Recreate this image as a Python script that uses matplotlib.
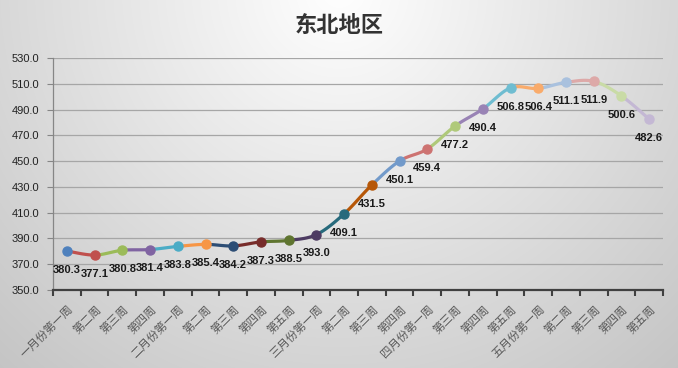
import numpy as np
import matplotlib.pyplot as plt
from matplotlib.ticker import FixedLocator, FormatStrFormatter

plt.rcParams['font.family'] = ['Noto Sans CJK SC', 'DejaVu Sans']

# data
weeks = ['一月份第一周', '第二周', '第三周', '第四周',
         '二月份第一周', '第二周', '第三周', '第四周', '第五周',
         '三月份第一周', '第二周', '第三周', '第四周',
         '四月份第一周', '第三周', '第四周', '第五周',
         '五月份第一周', '第二周', '第三周', '第四周', '第五周']
prices = [380.3, 377.1, 380.8, 381.4, 383.8, 385.4, 384.2, 387.3, 388.5, 393.0,
          409.1, 431.5, 450.1, 459.4, 477.2, 490.4, 506.8, 506.4, 511.1, 511.9,
          500.6, 482.6]

# excel "vary colors by point" palette
point_colors = ['#4F81BD', '#C0504D', '#9BBB59', '#8064A2', '#4BACC6', '#F79646',
                '#2C4D75', '#772C2A', '#5F7530', '#4D3B62', '#276A7C', '#B65708',
                '#729ACA', '#CD7371', '#AFC97A', '#9983B5', '#6FBDD1', '#F9AB6B',
                '#A9C1DE', '#DDA9A8', '#C9DBA6', '#C4B8D4']

W, H = 678, 368
fig = plt.figure(figsize=(W / 100, H / 100), dpi=100)

# radial grey background, white near the title
bg = fig.add_axes([0, 0, 1, 1], zorder=-10)
yy, xx = np.mgrid[0:H, 0:W]
d = np.sqrt((xx - W * 0.5) ** 2 + ((yy + 10) * 1.0) ** 2)
shade = np.clip(255 - 0.115 * d, 0, 255) / 255.0
bg.imshow(np.dstack([shade] * 3), aspect='auto', extent=[0, 1, 0, 1], origin='upper')
bg.axis('off')

ax = fig.add_axes([53 / W, 1 - 290 / H, (663 - 53) / W, (290 - 58) / H])
ax.patch.set_alpha(0)

x = np.arange(len(prices))
y = np.array(prices)

# smoothed line (catmull-rom), each segment in the colour of its end point
t = np.linspace(0, 1, 30)
for i in range(len(x) - 1):
    p0 = np.array([x[max(i - 1, 0)], y[max(i - 1, 0)]])
    p1 = np.array([x[i], y[i]])
    p2 = np.array([x[i + 1], y[i + 1]])
    p3 = np.array([x[min(i + 2, len(x) - 1)], y[min(i + 2, len(x) - 1)]])
    c1 = p1 + (p2 - p0) / 6
    c2 = p2 - (p3 - p1) / 6
    tt = t[:, None]
    seg = ((1 - tt) ** 3) * p1 + 3 * ((1 - tt) ** 2) * tt * c1 + 3 * (1 - tt) * tt ** 2 * c2 + tt ** 3 * p2
    ax.plot(seg[:, 0], seg[:, 1], color=point_colors[i + 1], lw=2.3,
            solid_capstyle='round', zorder=3)

for i in range(len(x)):
    ax.plot(x[i], y[i], 'o', color=point_colors[i], markersize=6.5, zorder=4)
    ax.annotate('%.1f' % y[i], (x[i], y[i]), xytext=(0, -13.5), textcoords='offset points',
                ha='center', va='center', fontsize=8, fontweight='bold',
                family='Liberation Sans', color='#1a1a1a', zorder=5)

ax.set_xlim(-0.5, len(x) - 0.5)
ax.set_ylim(350, 530)
ax.yaxis.set_major_locator(FixedLocator(np.arange(350, 531, 20)))
ax.yaxis.set_major_formatter(FormatStrFormatter('%.1f'))
ax.grid(axis='y', color='#a6a6a6', lw=0.9)
ax.set_axisbelow(True)

ax.set_xticks(x)
ax.set_xticklabels(weeks, rotation=45, ha='right', va='top', rotation_mode='anchor',
                   fontsize=8.3, color='#595959')
ax.set_xticks(np.arange(-0.5, len(x), 1), minor=True)
ax.tick_params(axis='x', which='major', length=0, pad=9)
ax.tick_params(axis='x', which='minor', length=4, width=1.5, color='#404040', direction='out')
ax.tick_params(axis='y', length=4, width=0.8, color='#868686', labelsize=8,
               labelcolor='#222222', pad=6)
for lab in ax.get_yticklabels():
    lab.set_family('Liberation Sans')

for s in ['top', 'right']:
    ax.spines[s].set_visible(False)
ax.spines['left'].set_color('#868686')
ax.spines['left'].set_linewidth(0.9)
ax.spines['bottom'].set_color('#404040')
ax.spines['bottom'].set_linewidth(1.6)

fig.text(0.5, 1 - 25 / H, '东北地区', ha='center', va='center', fontsize=16,
         fontweight='bold', color='#333333')

fig.savefig('out.png', dpi=100)
